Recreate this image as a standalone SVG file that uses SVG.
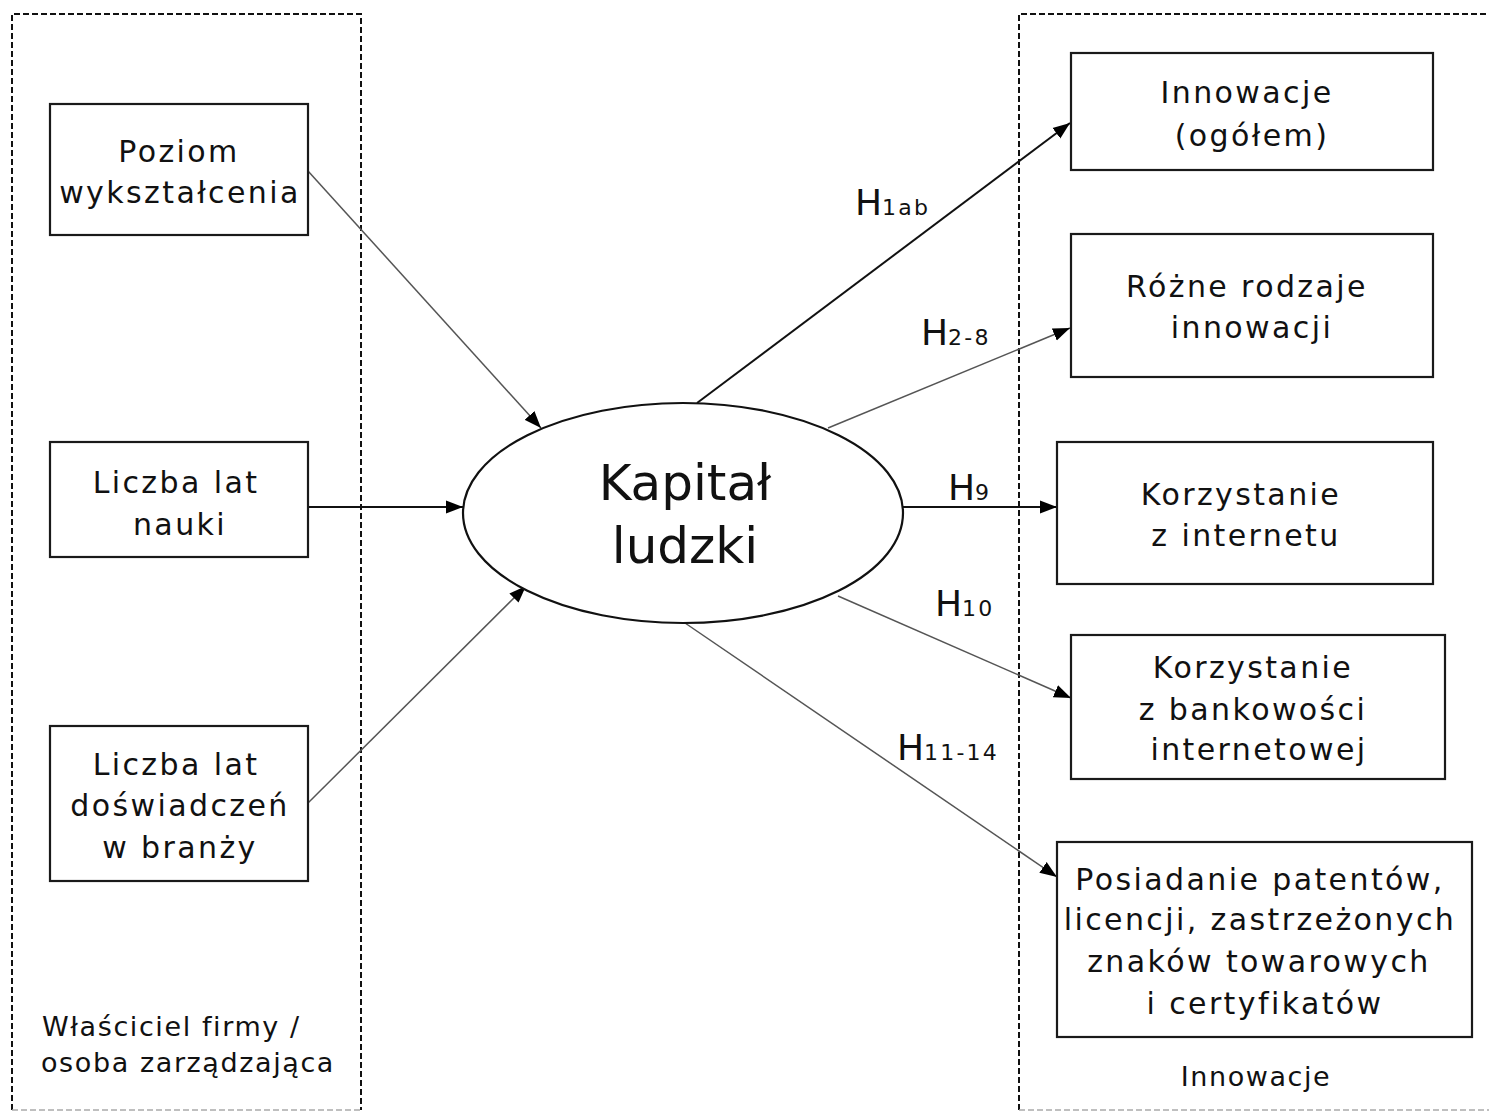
<svg xmlns="http://www.w3.org/2000/svg" width="1489" height="1113" viewBox="0 0 1489 1113">
<style>
.bg{fill:#fff}
.box{fill:#fff;stroke:#1a1a1a;stroke-width:2.2}
.dash{fill:none;stroke:#111;stroke-width:2;stroke-dasharray:6 3}
.dashg{fill:none;stroke:#aaa;stroke-width:1.5;stroke-dasharray:6 3}
.t{font-family:"DejaVu Sans","Liberation Sans",sans-serif;font-size:30px;letter-spacing:2.4px;fill:#111;text-anchor:middle}
.big{font-family:"DejaVu Sans","Liberation Sans",sans-serif;font-size:50px;fill:#111;text-anchor:middle}
.lab{font-family:"DejaVu Sans","Liberation Sans",sans-serif;font-size:36px;fill:#111}
.sub{font-size:22px;letter-spacing:2.2px}
.note{font-family:"DejaVu Sans","Liberation Sans",sans-serif;font-size:27px;letter-spacing:1.6px;fill:#111}
.c1{fill:none;stroke:#111;stroke-width:2;marker-end:url(#ah)}
.c2{fill:none;stroke:#555;stroke-width:1.5;marker-end:url(#ah)}
</style>
<defs>
<marker id="ah" markerUnits="userSpaceOnUse" markerWidth="18" markerHeight="14" refX="17" refY="7" orient="auto">
<path d="M0,0.5 L17,7 L0,13.5 z" fill="#000"/>
</marker>
</defs>
<rect class="bg" x="0" y="0" width="1489" height="1113"/>

<g id="group-owner">
<path class="dash" d="M12,1110 L12,14 L361,14 L361,1110"/>
<path class="dashg" d="M12,1110 L361,1110"/>
<text class="note" x="42" y="1036">Właściciel firmy /</text>
<text class="note" x="41" y="1072">osoba zarządzająca</text>
</g>

<g id="group-innovations">
<path class="dash" d="M1019,1110 L1019,14 L1495,14"/>
<path class="dashg" d="M1019,1110 L1495,1110"/>
<text class="note" x="1256" y="1086" text-anchor="middle">Innowacje</text>
</g>

<g id="connectors">
<line class="c2" x1="308" y1="171" x2="541" y2="428"/>
<line class="c1" x1="308" y1="507" x2="463" y2="507"/>
<line class="c2" x1="308" y1="803" x2="526" y2="586"/>
<line class="c1" x1="697" y1="403" x2="1070" y2="123"/>
<line class="c2" x1="828" y1="428" x2="1070" y2="328"/>
<line class="c1" x1="903" y1="507" x2="1057" y2="507"/>
<line class="c2" x1="838" y1="596" x2="1071" y2="698"/>
<line class="c2" x1="685" y1="623" x2="1057" y2="877"/>
</g>

<g id="node-poziom">
<rect class="box" x="50" y="104" width="258" height="131"/>
<text class="t" x="179" y="162">Poziom</text>
<text class="t" x="180" y="203">wykształcenia</text>
</g>

<g id="node-nauki">
<rect class="box" x="50" y="442" width="258" height="115"/>
<text class="t" x="176" y="493">Liczba lat</text>
<text class="t" x="180" y="535">nauki</text>
</g>

<g id="node-doswiadczenie">
<rect class="box" x="50" y="726" width="258" height="155"/>
<text class="t" x="176" y="775">Liczba lat</text>
<text class="t" x="180" y="816">doświadczeń</text>
<text class="t" x="180" y="858">w branży</text>
</g>

<g id="node-kapital">
<ellipse cx="683" cy="513" rx="220" ry="110" fill="#fff" stroke="#111" stroke-width="2.2"/>
<text class="big" x="685" y="500">Kapitał</text>
<text class="big" x="685" y="563">ludzki</text>
</g>

<g id="node-innowacje">
<rect class="box" x="1071" y="53" width="362" height="117"/>
<text class="t" x="1247" y="103">Innowacje</text>
<text class="t" x="1252" y="146">(ogółem)</text>
</g>

<g id="node-rodzaje">
<rect class="box" x="1071" y="234" width="362" height="143"/>
<text class="t" x="1247" y="297">Różne rodzaje</text>
<text class="t" x="1252" y="338">innowacji</text>
</g>

<g id="node-internet">
<rect class="box" x="1057" y="442" width="376" height="142"/>
<text class="t" x="1241" y="505">Korzystanie</text>
<text class="t" x="1246" y="546">z internetu</text>
</g>

<g id="node-bankowosc">
<rect class="box" x="1071" y="635" width="374" height="144"/>
<text class="t" x="1253" y="678">Korzystanie</text>
<text class="t" x="1253" y="720">z bankowości</text>
<text class="t" x="1259" y="760">internetowej</text>
</g>

<g id="node-patenty">
<rect class="box" x="1057" y="842" width="415" height="195"/>
<text class="t" x="1260" y="890">Posiadanie patentów,</text>
<text class="t" x="1260" y="930">licencji, zastrzeżonych</text>
<text class="t" x="1259" y="972">znaków towarowych</text>
<text class="t" x="1265" y="1014">i certyfikatów</text>
</g>

<g id="labels">
<text class="lab" x="855" y="215">H<tspan class="sub">1ab</tspan></text>
<text class="lab" x="921" y="345">H<tspan class="sub">2-8</tspan></text>
<text class="lab" x="948" y="500">H<tspan class="sub">9</tspan></text>
<text class="lab" x="935" y="616">H<tspan class="sub">10</tspan></text>
<text class="lab" x="897" y="760">H<tspan class="sub">11-14</tspan></text>
</g>
</svg>
